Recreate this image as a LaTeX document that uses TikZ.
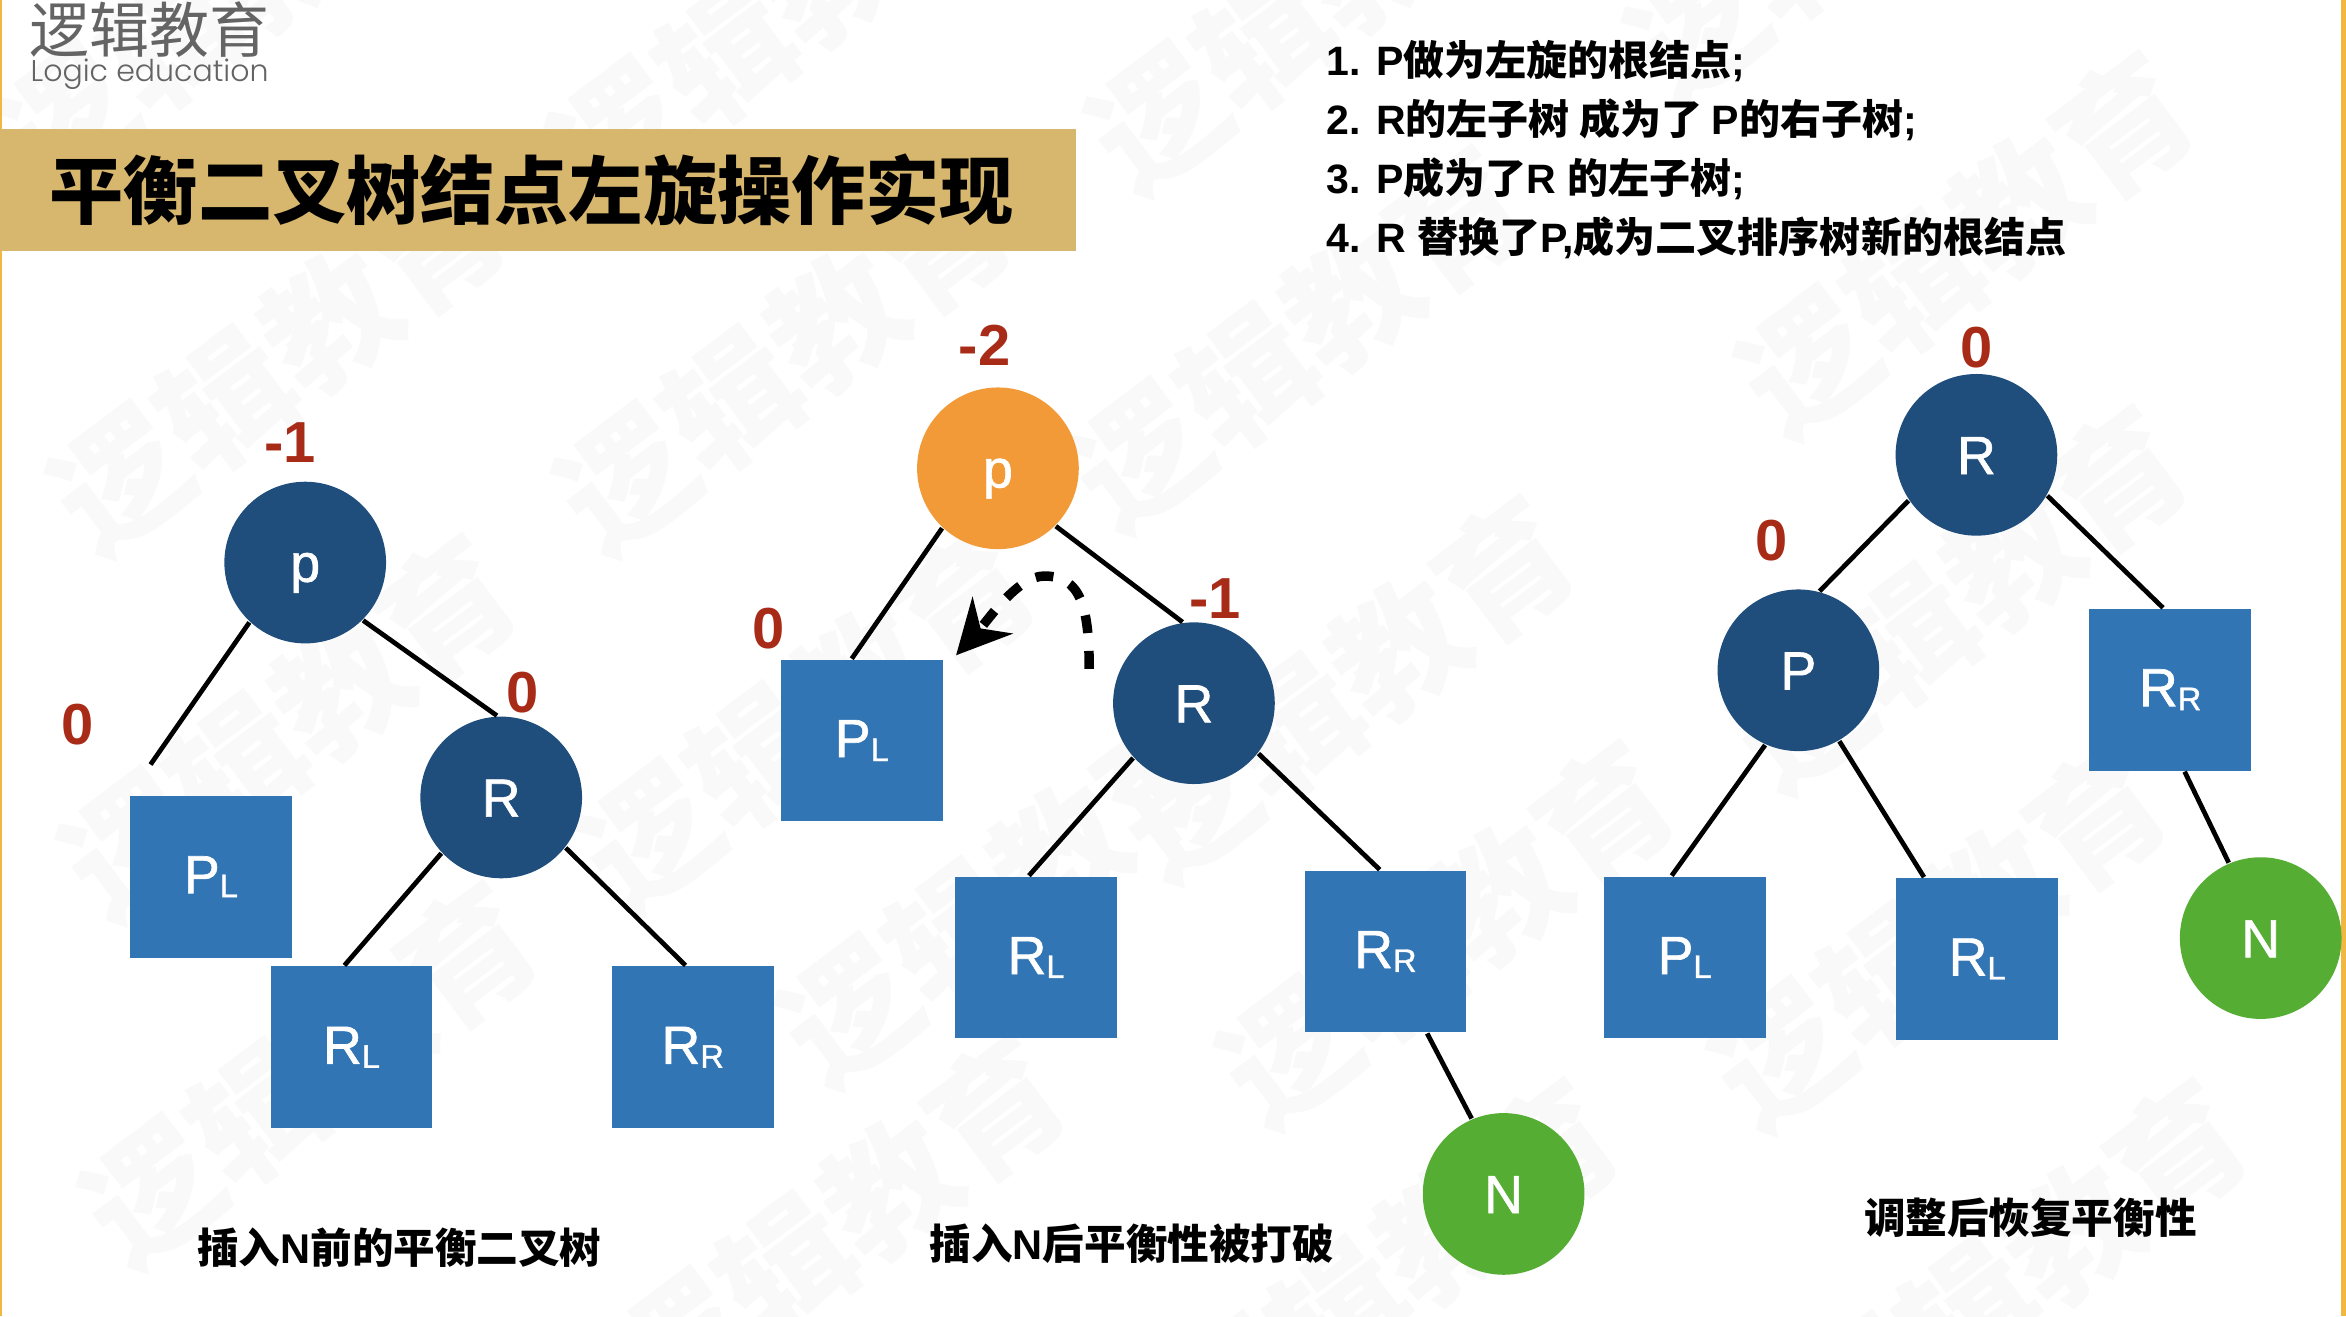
\documentclass[tikz,border=0pt]{standalone}
\usepackage{fontspec}
\setmainfont{Liberation Sans}
\newfontfamily\cjk{Noto Sans CJK SC}
\newfontfamily\logofont{Poppins Light}
\newfontfamily\nodefont{Liberation Sans}[FakeBold=1.2]
\usetikzlibrary{arrows.meta}

\newcommand{\zh}[1]{{\cjk #1}}
\newcommand{\subtxt}[2]{#1\raisebox{-0.75pt}{\fontsize{6.2}{6.2}\selectfont #2}}

\begin{document}
\begin{tikzpicture}[
    x=0.01cm, y=-0.01cm,
    treecircle/.style={circle, minimum size=1.08cm, inner sep=0pt, text=white, text height=7.3pt, text depth=0pt, font=\fontsize{10.2}{10.2}\selectfont\nodefont},
    treebox/.style={rectangle, minimum size=1.08cm, inner sep=0pt, fill=boxblue, text=white, font=\fontsize{10.2}{10.2}\selectfont\nodefont},
    factor/.style={text=factorred, inner sep=0pt, font=\fontsize{11}{11}\selectfont\bfseries},
    caption/.style={inner sep=0pt, font=\fontsize{7.9}{7.9}\selectfont\bfseries},
    treeedge/.style={draw=black, line width=0.9pt},
    markbox/.style={inner sep=0pt, rotate=37, text=markgray, font=\fontsize{25}{25}\selectfont\bfseries\cjk}
]

% Colors
\definecolor{boxblue}{RGB}{49,117,180}
\definecolor{rootblue}{RGB}{31,77,124}
\definecolor{rootorange}{RGB}{242,153,56}
\definecolor{newgreen}{RGB}{85,174,51}
\definecolor{factorred}{RGB}{168,43,24}
\definecolor{bandgold}{RGB}{215,182,110}
\definecolor{framegold}{RGB}{240,184,64}
\definecolor{logogray}{RGB}{100,100,100}
\definecolor{markgray}{RGB}{249,249,249}

\useasboundingbox (0,0) rectangle (1568,879.6);

% Watermark
\foreach \x/\y [count=\i] in {186/241, 524/241, 868/226, 1314/163, 193/486, 540/480, 900/460, 1296/626,
    207/718, 673/597, 967/624, 1310/400, 520/10, 880/0, 1240/-60, 150/0, 560/820, 930/850, 1350/850} {
    \node[markbox] (mark\i) at (\x,\y) {逻辑教育};
}

% Frame and title band
\fill[framegold] (0,0) rectangle (1.6,879.6);
\fill[framegold] (1564.6,0) rectangle (1568,879.6);
\fill[bandgold] (0,86) rectangle (719.5,167.5);
\node[inner sep=0pt, font=\fontsize{14.1}{14.1}\selectfont\bfseries\cjk] (title) at (355.5,127) {平衡二叉树结点左旋操作实现};

% Logo
\node[inner sep=0pt, text=logogray, font=\fontsize{11.4}{11.4}\selectfont\cjk] (logo) at (100,20) {逻辑教育};
\node[inner sep=0pt, text=logogray, font=\fontsize{5.7}{5.7}\selectfont\logofont] (logoen) at (100,49.5) {Logic education};

% Steps
\node[inner sep=0pt, anchor=north west, align=left, font=\fontsize{7.8}{11.2}\selectfont\bfseries] (steps) at (886,26) {
    1. P\zh{做为左旋的根结点}; \\
    2. R\zh{的左子树 成为了 }P\zh{的右子树}; \\
    3. P\zh{成为了}R \zh{的左子树}; \\
    4. R \zh{替换了}P,\zh{成为二叉排序树新的根结点}};

% Tree before insert
\node[treecircle, fill=rootblue] (pa) at (204,376) {p};
\node[treecircle, fill=rootblue] (ra) at (335,533) {R};
\node[treebox] (pla) at (141,586) {\subtxt{P}{L}};
\node[treebox] (rla) at (235,700) {\subtxt{R}{L}};
\node[treebox] (rra) at (463,700) {\subtxt{R}{R}};
\coordinate (plaend) at (100.6,511);
\draw[treeedge] (pa.-133.5) -- (plaend);
\draw[treeedge] (pa.-45) -- (ra.93);
\draw[treeedge] (ra.-137.5) -- (rla.95);
\draw[treeedge] (ra.-38) -- (rra.95);
\node[factor] (fpa) at (194,296) {-1};
\node[factor] (fpla) at (52,484) {0};
\node[factor] (fra) at (349,463) {0};
\node[caption] (capa) at (267,834) {\zh{插入}N\zh{前的平衡二叉树}};

% Tree after insert
\node[treecircle, fill=rootorange] (pb) at (667,313) {p};
\node[treecircle, fill=rootblue] (rb) at (798,470) {R};
\node[treebox] (plb) at (576,495) {\subtxt{P}{L}};
\node[treebox] (rlb) at (692.5,640) {\subtxt{R}{L}};
\node[treebox] (rrb) at (926,636) {\subtxt{R}{R}};
\node[treecircle, fill=newgreen] (nb) at (1005,798) {N};
\draw[treeedge] (pb.-133) -- (plb.97);
\draw[treeedge] (pb.-45) -- (rb.98);
\draw[treeedge] (rb.-138) -- (rlb.95);
\draw[treeedge] (rb.-38) -- (rrb.94);
\draw[treeedge] (rrb.-63) -- (nb.113);
\node[factor] (fpb) at (658,231) {-2};
\node[factor] (fplb) at (514,420) {0};
\node[factor] (frb) at (812,400) {-1};
\node[caption] (capb) at (756.5,831) {\zh{插入}N\zh{后平衡性被打破}};

% Rotation arrow
\coordinate (arcstart) at (728,447);
\coordinate (arctop) at (698,385);
\coordinate (arctip) at (639,438);
\draw[-{Stealth[length=0.36cm, width=0.36cm]}, line width=1.8pt, dash pattern=on 3.4pt off 3.4pt]
    (arcstart) .. controls (728,405) and (722,385) .. (arctop) .. controls (680,385) and (660,415) .. (arctip);

% Tree after rotation
\node[treecircle, fill=rootblue] (rc) at (1321,304) {R};
\node[treecircle, fill=rootblue] (pc) at (1202,448) {P};
\node[treebox] (rrc) at (1450.5,461) {\subtxt{R}{R}};
\node[treebox] (plc) at (1126,640) {\subtxt{P}{L}};
\node[treebox] (rlc) at (1321.5,641) {\subtxt{R}{L}};
\node[treecircle, fill=newgreen] (nc) at (1511,627) {N};
\draw[treeedge] (rc.-146) -- (pc.75);
\draw[treeedge] (rc.-30.5) -- (rrc.95);
\draw[treeedge] (pc.-114) -- (plc.99);
\draw[treeedge] (pc.-60) -- (rlc.123.7);
\draw[treeedge] (rrc.-80) -- (nc.113.4);
\node[factor] (frc) at (1321,232) {0};
\node[factor] (fpc) at (1184,361) {0};
\node[caption] (capc) at (1357,814) {\zh{调整后恢复平衡性}};

\end{tikzpicture}
\end{document}
